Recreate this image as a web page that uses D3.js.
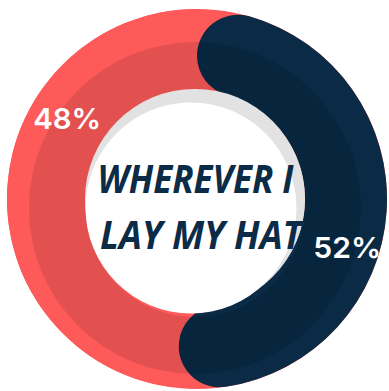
<!DOCTYPE html>
<html>
<head>
<meta charset="utf-8">
<script src="https://cdn.jsdelivr.net/npm/d3@7"></script>
<style>
  body { margin: 0; background: #fff; }
  svg { display: block; }
</style>
</head>
<body>
<svg id="chart" width="389" height="391"></svg>
<script>
// data
const labels = ["52%", "48%"];
const values = [52, 48];
const colors = ["#0A2A46", "#FF5A5A"];
const titleLines = ["WHEREVER I", "LAY MY HAT"];

const width = 389, height = 391;
const cx = 197, cy = 199;
const outerR = 190, innerR = 108;

let svg = d3.select("#chart");

let pie = d3.pie().sort(null).value(d => d);
let slices = pie(values);

let arc = d3.arc().innerRadius(innerR).outerRadius(outerR);
let roundArc = d3.arc().innerRadius(innerR).outerRadius(outerR).cornerRadius((outerR - innerR) / 2);

let g = svg.append("g").attr("transform", "translate(" + cx + "," + cy + ")");

// red ring sits under the rounded navy ends
g.append("path")
    .attr("d", arc({ startAngle: 0, endAngle: 2 * Math.PI }))
    .style("fill", colors[1]);

g.selectAll("path.slice")
    .data(slices)
    .enter()
    .append("path")
    .attr("class", "slice")
    .attr("d", (d, i) => i === 0 ? roundArc(d) : arc(d))
    .style("fill", (d, i) => colors[i]);

// inner shadow ring
let shadow = d3.arc().innerRadius(109).outerRadius(166);
svg.append("path")
    .attr("transform", "translate(" + (cx - 2) + "," + (cy + 9) + ")")
    .attr("d", shadow({ startAngle: 0, endAngle: 2 * Math.PI }))
    .style("fill", "#000")
    .style("opacity", 0.11);

// hole: grey rim + white disc
svg.append("circle")
    .attr("cx", cx - 2).attr("cy", cy)
    .attr("r", 110)
    .style("fill", "#E2E2E2");

svg.append("circle")
    .attr("cx", cx - 6).attr("cy", cy + 9)
    .attr("r", 105.5)
    .style("fill", "#fff");

// centre title
let titleFits = [196, 202];
svg.selectAll("text.title")
    .data(titleLines)
    .enter()
    .append("text")
    .attr("class", "title")
    .attr("x", (d, i) => cx + (i === 0 ? -1.5 : 4))
    .attr("y", (d, i) => 193 + i * 56)
    .attr("text-anchor", "middle")
    .attr("textLength", (d, i) => titleFits[i])
    .attr("lengthAdjust", "spacingAndGlyphs")
    .style("font-family", "'Open Sans', sans-serif")
    .style("font-weight", 700)
    .style("font-style", "italic")
    .style("font-size", "39px")
    .style("fill", "#0C2B47")
    .text(d => d);

// percent labels
let labelFrac = [0.577, 0.664];
let labelRad = [158, 153];
svg.selectAll("text.pct")
    .data(slices)
    .enter()
    .append("text")
    .attr("class", "pct")
    .attr("transform", (d, i) => {
        let a = d.startAngle + (d.endAngle - d.startAngle) * labelFrac[i];
        let x = cx + Math.sin(a) * labelRad[i];
        let y = cy - Math.cos(a) * labelRad[i];
        return "translate(" + x + "," + (y + 10.5) + ")";
    })
    .attr("text-anchor", "middle")
    .attr("textLength", 68)
    .attr("lengthAdjust", "spacingAndGlyphs")
    .style("font-family", "Inter, sans-serif")
    .style("font-weight", 600)
    .style("font-size", "29px")
    .style("fill", "#fff")
    .text((d, i) => labels[i]);
</script>
</body>
</html>
